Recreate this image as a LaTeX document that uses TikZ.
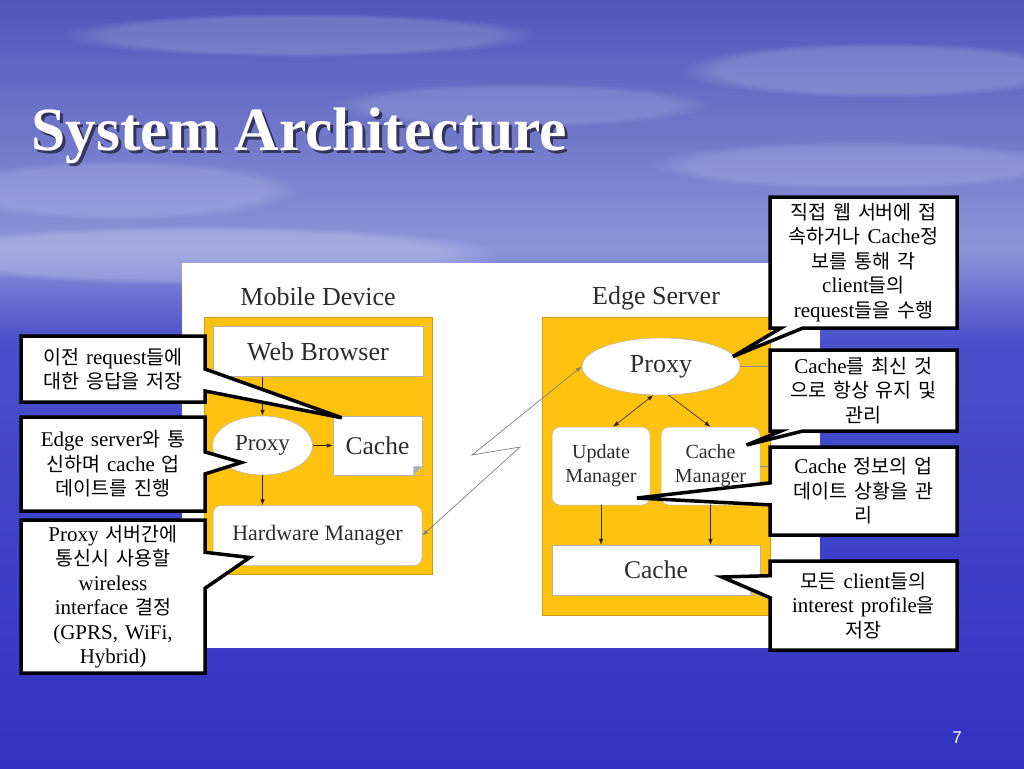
\documentclass[tikz,border=0pt]{standalone}
\usepackage{fontspec}
\setmainfont{Liberation Serif}
\newfontfamily\sansf{Liberation Sans}
\newfontfamily\kr[Scale=0.93]{Noto Sans CJK KR}
\newcommand\ko[1]{{\kr #1}}
\usetikzlibrary{shapes.callouts,shapes.geometric,arrows.meta,calc,fadings}
\definecolor{paneyel}{RGB}{255,194,14}
\definecolor{paneedge}{RGB}{205,155,25}
\definecolor{skytop}{RGB}{80,86,186}
\definecolor{skylow}{RGB}{140,148,216}
\definecolor{seamid}{RGB}{74,80,202}
\definecolor{seabot}{RGB}{50,50,196}
\definecolor{txt}{RGB}{45,45,45}
\definecolor{fold}{RGB}{170,172,192}
\tikzset{
  panel/.style={draw=paneedge, fill=paneyel, line width=0.6pt, inner sep=0pt},
  box/.style={draw=black!30, fill=white, line width=0.5pt, text=txt, inner sep=0pt, align=center},
  rbox/.style={box, rounded corners=8pt},
  ell/.style={ellipse, box},
  lbl/.style={text=txt, font=\fontsize{26}{28}\selectfont},
  arr/.style={draw=black!75!brown, line width=0.6pt, -{Latex[length=6pt,width=4.5pt]}},
  memo/.style={rectangle callout, draw=black, line width=3.5pt, fill=white, align=center,
    inner sep=4pt, font=\fontsize{21}{24.5}\selectfont, callout pointer width=22pt},
  cloud/.style={white, path fading=circle with fuzzy edge 20 percent}
}
\begin{document}
\begin{tikzpicture}[x=1pt,y=-1pt]
  % background
  \useasboundingbox (0,0) rectangle (1024,768);
  \shade[top color=skytop, bottom color=skylow] (0,0) rectangle (1024,250);
  \shade[top color=skylow, bottom color=seamid] (0,250) rectangle (1024,340);
  \shade[top color=seamid, bottom color=seabot] (0,340) rectangle (1024,768);
  \fill[cloud, opacity=.16] (300,35) ellipse [x radius=240pt, y radius=22pt];
  \fill[cloud, opacity=.14] (520,105) ellipse [x radius=190pt, y radius=22pt];
  \fill[cloud, opacity=.18] (880,70) ellipse [x radius=200pt, y radius=28pt];
  \fill[cloud, opacity=.15] (860,165) ellipse [x radius=210pt, y radius=24pt];
  \fill[cloud, opacity=.15] (120,190) ellipse [x radius=180pt, y radius=30pt];
  \fill[cloud, opacity=.22] (200,255) ellipse [x radius=300pt, y radius=30pt];

  % title
  \node[anchor=base west, text=black, opacity=.55, font=\bfseries\fontsize{61.5}{62}\selectfont] (titleS) at (31,153) {System Architecture};
  \node[anchor=base west, text=white, font=\bfseries\fontsize{61.5}{62}\selectfont] (title) at (28,150) {System Architecture};
  \node[text=white, font=\sansf\fontsize{17}{17}\selectfont] (pg) at (957,738) {7};

  % diagram
  \fill[white] (182,263) rectangle (820,648);
  \node[lbl] (mobT) at (318,297) {Mobile Device};
  \node[lbl] (edgeT) at (656,298) {Edge Server};
  \node[panel, minimum width=228pt, minimum height=257pt] (mobP) at (318,445.5) {};
  \node[panel, minimum width=228pt, minimum height=298pt] (edgeP) at (656,466) {};

  \node[box, minimum width=210pt, minimum height=50pt, font=\fontsize{26}{28}\selectfont] (webB) at (318,351.5) {Web Browser};
  \node[ell, minimum width=100pt, minimum height=59pt, font=\fontsize{23}{25}\selectfont] (proxyM) at (262.5,445.5) {Proxy};
  \node[box, minimum width=89pt, minimum height=59pt, font=\fontsize{25.5}{27}\selectfont] (cacheM) at (377.5,445.5) {Cache};
  \node[rbox, minimum width=209pt, minimum height=60pt, font=\fontsize{22}{24}\selectfont] (hwM) at (317.5,535.5) {Hardware Manager};
  \fill[paneyel] (cacheM.south east) -- ++(-9,0) -- ++(9,-9) -- cycle;
  \fill[fold] ($(cacheM.south east)+(-9,0)$) -- ++(9,-9) -- ++(-9,0) -- cycle;

  \node[ell, minimum width=158pt, minimum height=57pt, font=\fontsize{26}{28}\selectfont] (proxyE) at (661,366.5) {Proxy};
  \node[rbox, minimum width=98pt, minimum height=78pt, font=\fontsize{20}{24}\selectfont] (updMgr) at (601,466) {Update\\Manager};
  \node[rbox, minimum width=99pt, minimum height=78pt, font=\fontsize{20}{24}\selectfont] (cacheMgr) at (710.5,466) {Cache\\Manager};
  \node[box, minimum width=208pt, minimum height=50pt, font=\fontsize{25.5}{27}\selectfont] (cacheE) at (656,570) {Cache};
  \fill[paneyel] (cacheE.south east) -- ++(-10,0) -- ++(10,-10) -- cycle;
  \fill[fold] ($(cacheE.south east)+(-10,0)$) -- ++(10,-10) -- ++(-10,0) -- cycle;

  \draw[arr] (webB.south -| proxyM) -- (proxyM.north);
  \draw[arr] (proxyM.east) -- (cacheM.west);
  \draw[arr] (proxyM.south) -- (hwM.north -| proxyM);
  \draw[arr, {Latex[length=6pt,width=4.5pt]}-{Latex[length=6pt,width=4.5pt]}] (proxyE.255) -- ($(updMgr.north)+(12,0)$);
  \draw[arr] (proxyE.285) -- (cacheMgr.north);
  \draw[arr] (updMgr.south) -- (updMgr.south |- cacheE.north);
  \draw[arr] (cacheMgr.south) -- (cacheMgr.south |- cacheE.north);
  \draw[black!45, line width=0.6pt] (proxyE.east) -- (proxyE.east -| edgeP.east);
  \draw[black!45, line width=0.6pt] (cacheMgr.east) -- (cacheMgr.east -| edgeP.east);
  \draw[gray, line width=0.7pt, {Latex[length=6pt,width=4.5pt]}-{Latex[length=6pt,width=4.5pt]}]
    (hwM.east) -- (520,447) -- (472,455) -- (proxyE.west);

  % callouts
  \node[memo, text width=176pt, minimum height=66pt, callout absolute pointer={($(cacheM.north west)+(9,2)$)}] (noteA) at (113,369)
    {\ko{이전} request\ko{들에}\\\ko{대한 응답을 저장}};
  \node[memo, text width=176pt, minimum height=94pt, callout absolute pointer={($(proxyM.center)+(-21,17)$)}] (noteB) at (113,464)
    {Edge server\ko{와 통}\\\ko{신하며} cache \ko{업}\\\ko{데이트를 진행}};
  \node[memo, text width=176pt, minimum height=153pt, callout pointer width=36pt, callout absolute pointer={($(hwM.west)+(37,22)$)}] (noteC) at (113,596.5)
    {Proxy \ko{서버간에}\\\ko{통신시 사용할}\\wireless\\interface \ko{결정}\\(GPRS, WiFi,\\Hybrid)};
  \node[memo, text width=179pt, minimum height=131pt, callout absolute pointer={($(proxyE.center)+(72,-10)$)}] (noteD) at (863.5,262.5)
    {\ko{직접 웹 서버에 접}\\\ko{속하거나} Cache\ko{정}\\\ko{보를 통해 각}\\client\ko{들의}\\request\ko{들을 수행}};
  \node[memo, text width=179pt, minimum height=81pt, callout absolute pointer={($(cacheMgr.center)+(36,-21)$)}] (noteE) at (863.5,390.5)
    {Cache\ko{를 최신 것}\\\ko{으로 항상 유지 및}\\\ko{관리}};
  \node[memo, text width=179pt, minimum height=88pt, callout absolute pointer={($(updMgr.center)+(36,32)$)}] (noteF) at (863.5,491)
    {Cache \ko{정보의 업}\\\ko{데이트 상황을 관}\\\ko{리}};
  \node[memo, text width=179pt, minimum height=89pt, callout absolute pointer={($(cacheE.center)+(66,7)$)}] (noteG) at (863.5,605.5)
    {\ko{모든} client\ko{들의}\\interest profile\ko{을}\\\ko{저장}};
\end{tikzpicture}
\end{document}
